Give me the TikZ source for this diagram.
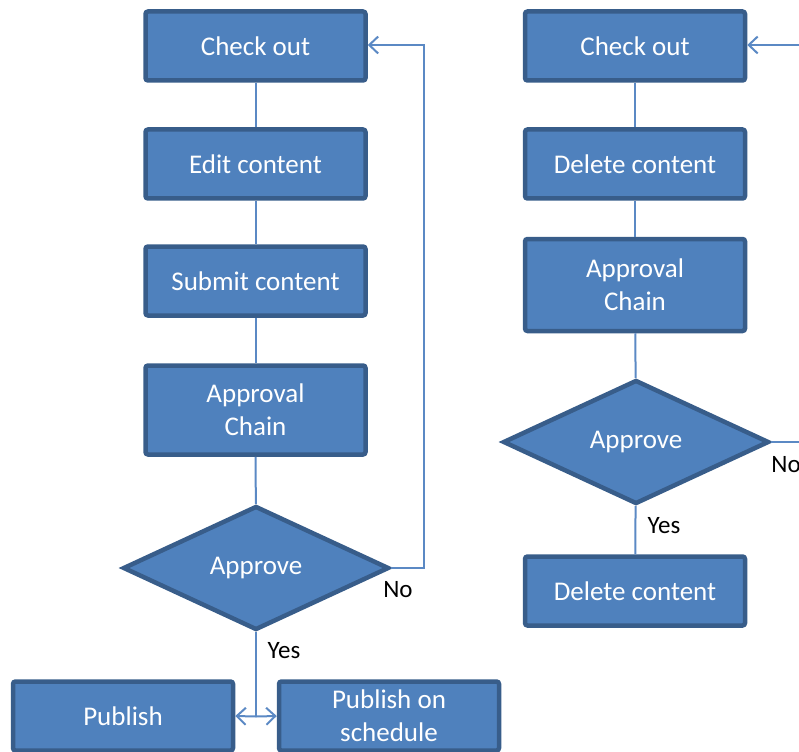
\documentclass[tikz,border=0pt]{standalone}
\usepackage{fontspec}
\setmainfont{Carlito}
\usetikzlibrary{shapes.geometric,arrows.meta}
\definecolor{boxfill}{HTML}{4F81BD}
\definecolor{boxdraw}{HTML}{385D8A}
\definecolor{linecol}{HTML}{5B89C4}
\begin{document}
\begin{tikzpicture}[x=1pt,y=-1pt,
  box/.style={draw=boxdraw,fill=boxfill,line width=4.5pt,rounded corners=2.5pt,
    minimum width=220pt,minimum height=69pt,inner sep=0pt,text=white,
    font=\fontsize{27}{33}\selectfont,align=center},
  dec/.style={draw=boxdraw,fill=boxfill,line width=4.5pt,shape=diamond,
    minimum width=266pt,minimum height=124pt,inner sep=0pt,text=white,
    font=\fontsize{27}{33}\selectfont},
  conn/.style={draw=linecol,line width=2pt},
  arr/.style={conn,-{Straight Barb[length=9pt,width=17pt,line width=2pt]}},
  lbl/.style={font=\fontsize{25}{28}\selectfont,text=black,inner sep=0pt}]
\useasboundingbox (0,0) rectangle (799,751);
\clip (0,0) rectangle (799,751);
% left column
\node[box] (co1) at (255.5,46) {Check out};
\node[box] (ed1) at (255.5,164) {Edit content};
\node[box] (su1) at (255.5,281) {Submit content};
\node[box,minimum height=89pt] (ap1) at (255.5,410) {Approval\\Chain};
\node[dec] (dc1) at (256,568) {Approve};
\node[box] (pu1) at (123,716) {Publish};
\node[box] (ps1) at (389,716) {Publish  on\\schedule};
\coordinate (lp1) at (424,568);
\coordinate (lp2) at (424,45);
\coordinate (jn) at (256,716.5);
\draw[conn] (co1) -- (ed1);
\draw[conn] (ed1) -- (su1);
\draw[conn] (su1) -- (ap1);
\draw[conn] (ap1) -- (dc1);
\draw[arr] (dc1.east) -- (lp1) -- (lp2) -- (co1.east |- lp2);
\draw[conn] (dc1.south) -- (jn);
\draw[arr] (jn) -- (pu1.east);
\draw[arr] (jn) -- (ps1.west);
\node[lbl] at (398,590) {No};
\node[lbl] at (284,651) {Yes};
% right column
\node[box] (co2) at (635,46) {Check out};
\node[box] (de2) at (635,164) {Delete content};
\node[box,minimum height=92pt] (ap2) at (635,285) {Approval\\Chain};
\node[dec] (dc2) at (636,442) {Approve};
\node[box] (dl2) at (635,591) {Delete content};
\coordinate (rp1) at (830,442);
\coordinate (rp2) at (830,45);
\draw[conn] (co2) -- (de2);
\draw[conn] (de2) -- (ap2);
\draw[conn] (ap2) -- (dc2);
\draw[conn] (dc2) -- (dl2);
\draw[arr] (dc2.east) -- (rp1) -- (rp2) -- (co2.east |- rp2);
\node[lbl] at (786,465) {No};
\node[lbl] at (664,526) {Yes};
\end{tikzpicture}
\end{document}
